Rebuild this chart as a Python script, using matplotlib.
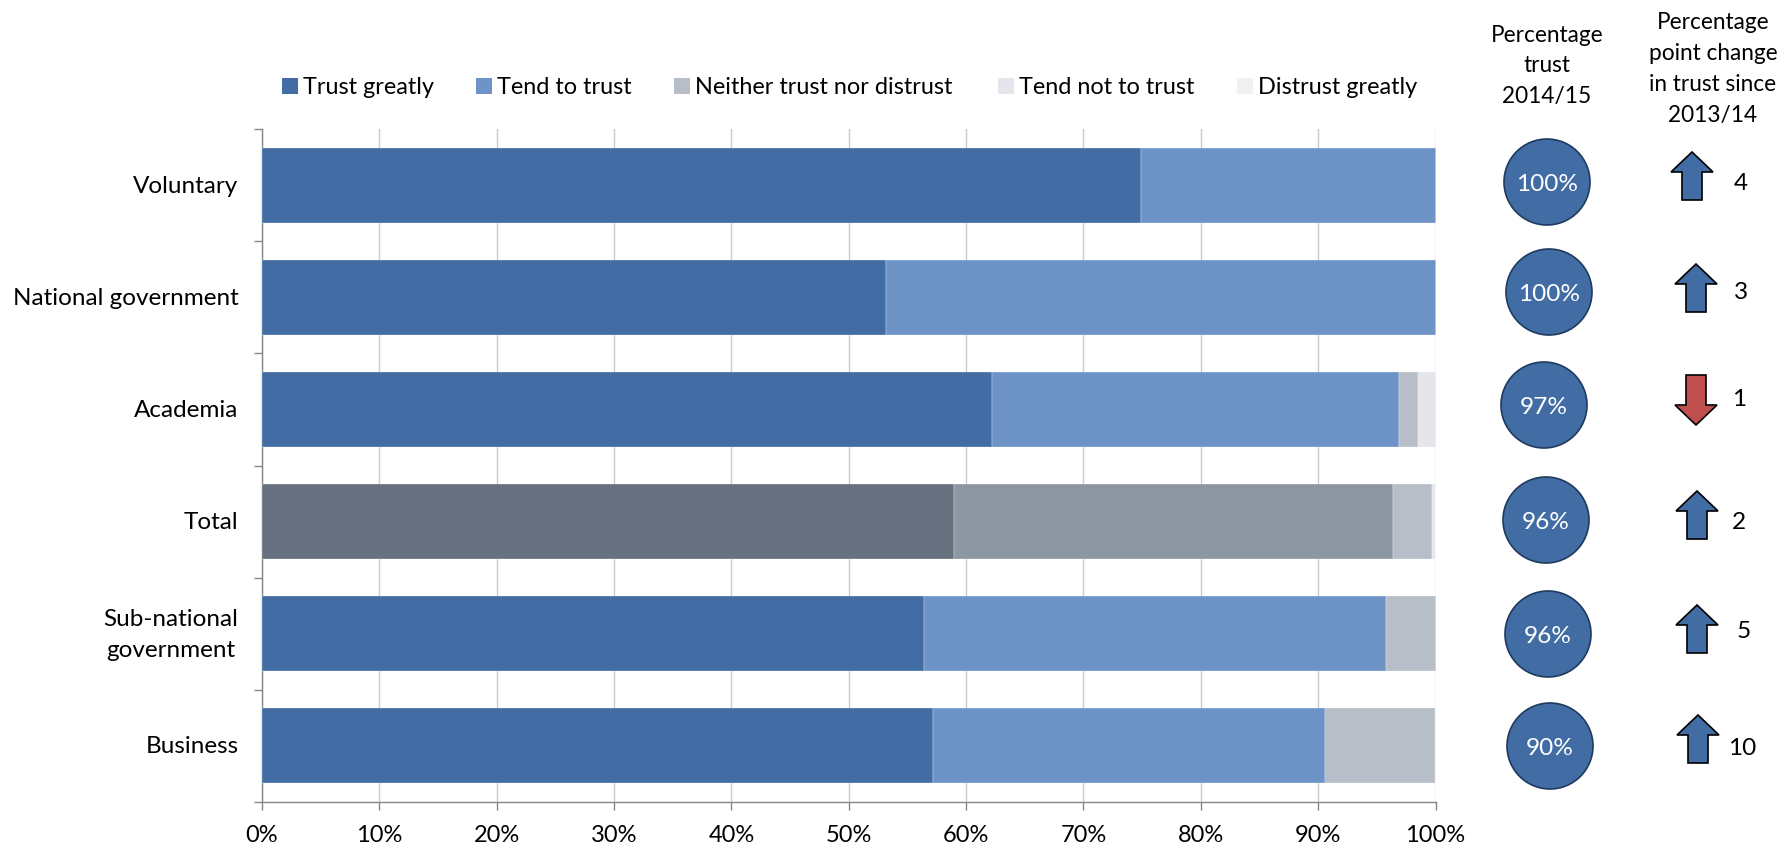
"""Trust by sector: stacked bars with trust level and change columns."""

import matplotlib

matplotlib.use("Agg")

import matplotlib.pyplot as plt
import numpy as np
from matplotlib.patches import Circle, Polygon

plt.rcParams["font.family"] = ["Lato", "DejaVu Sans"]

W, H = 1779, 845

sectors = ["Voluntary", "National government", "Academia", "Total",
           "Sub-national\ngovernment", "Business"]
levels = ["Trust greatly", "Tend to trust", "Neither trust nor distrust",
          "Tend not to trust", "Distrust greatly"]
trust_greatly = [74.9, 53.2, 62.2, 59.0, 56.4, 57.2]
tend_to_trust = [25.1, 46.8, 34.7, 37.4, 39.4, 33.4]
neither = [0.0, 0.0, 1.6, 3.3, 4.2, 9.4]
tend_not = [0.0, 0.0, 1.5, 0.3, 0.0, 0.0]
distrust = [0.0, 0.0, 0.0, 0.0, 0.0, 0.0]
trust_pct = ["100%", "100%", "97%", "96%", "96%", "90%"]
change = [4, 3, -1, 2, 5, 10]

level_colors = ["#426DA4", "#6E93C6", "#B7BEC7", "#E4E6EB", "#F0F0F0"]
total_colors = ["#68717F", "#8D97A2", "#B7BEC7", "#E4E6EB", "#F0F0F0"]

# reference pixel positions of the side columns
circle_x = [1547, 1549, 1544, 1546, 1548, 1550]
circle_y = [183, 293, 406, 521, 635, 747]
arrow_x = [1692, 1696, 1696, 1697, 1697, 1698]
arrow_y = [177, 289, 400, 516, 630, 740]
num_x = [1741, 1741, 1739, 1739, 1744, 1742]
num_y = [184, 293, 400, 523, 632, 749]

fig = plt.figure(figsize=(W / 100, H / 100), dpi=100)
ax = fig.add_axes([262 / W, 1 - 803 / H, (1435.5 - 262) / W, (803 - 130) / H])

series = [trust_greatly, tend_to_trust, neither, tend_not, distrust]
y = np.arange(len(sectors))
left = np.zeros(len(sectors))
for i, (vals, label) in enumerate(zip(series, levels)):
    colors = [total_colors[i] if s == "Total" else level_colors[i] for s in sectors]
    ax.barh(y, vals, left=left, height=0.67, color=colors, label=label,
            edgecolor="white", linewidth=0.2, zorder=3)
    left += np.array(vals)

ax.set_xlim(0, 100)
ax.set_ylim(len(sectors) - 0.5, -0.5)
ax.set_xticks(np.arange(0, 101, 10))
ax.set_xticklabels([f"{v}%" for v in range(0, 101, 10)], fontsize=17)
ax.set_yticks(np.arange(-0.5, len(sectors)))
ax.set_yticklabels([])
ax.tick_params(axis="both", length=5.8, width=1, color="#868686")
ax.tick_params(axis="x", pad=10)
ax.grid(axis="x", color="#C8C8C8", linewidth=1, zorder=0)
ax.set_axisbelow(True)
for side in ["top", "right"]:
    ax.spines[side].set_visible(False)
for side in ["left", "bottom"]:
    ax.spines[side].set_color("#868686")
    ax.spines[side].set_linewidth(1)
for pos, name in zip(y, sectors):
    ax.text(-2, pos, name, ha="right", multialignment="center",
            va="center", fontsize=17.5, color="black", linespacing=1.6)

# overlay in reference pixels for the legend and side columns
ov = fig.add_axes([0, 0, 1, 1], zorder=5)
ov.set_xlim(0, W)
ov.set_ylim(H, 0)
ov.axis("off")

legend_x = [282, 476, 674, 998, 1237]
for x0, label, col in zip(legend_x, levels, level_colors):
    ov.add_patch(plt.Rectangle((x0, 79), 16, 16, color=col, lw=0))
    ov.text(x0 + 21, 87, label, fontsize=16.9, va="center", ha="left")

ov.text(1547, 66, "Percentage\ntrust\n2014/15", ha="center", va="center",
        fontsize=16.3, linespacing=1.55)
ov.text(1713, 69, "Percentage\npoint change\nin trust since\n2013/14", ha="center",
        va="center", fontsize=16.3, linespacing=1.58)

for cx, cy, label in zip(circle_x, circle_y, trust_pct):
    ov.add_patch(Circle((cx, cy), 43, facecolor="#426DA4", edgecolor="#1F3A5F", lw=1.2))
    ov.text(cx, cy + 1.5, label, color="white", ha="center", va="center", fontsize=17.6)


def arrow(cx, cy, up, color):
    # block arrow: wings 20px behind the tip, long shaft
    d = 1 if up else -1
    half = 24 if up else 26
    pts = [(cx, cy - half * d), (cx + 21, cy - (half - 20) * d), (cx + 10, cy - (half - 20) * d),
           (cx + 10, cy + 24 * d), (cx - 10, cy + 24 * d), (cx - 10, cy - (half - 20) * d),
           (cx - 21, cy - (half - 20) * d)]
    ov.add_patch(Polygon(pts, closed=True, facecolor=color, edgecolor="black", lw=1.2))


for x0, y0, nx, ny, val in zip(arrow_x, arrow_y, num_x, num_y, change):
    arrow(x0, y0, val > 0, "#426DA4" if val > 0 else "#C0504D")
    ov.text(nx, ny, str(abs(val)), ha="center", va="center", fontsize=17.6)

fig.savefig("out.png", dpi=100)
plt.close(fig)
